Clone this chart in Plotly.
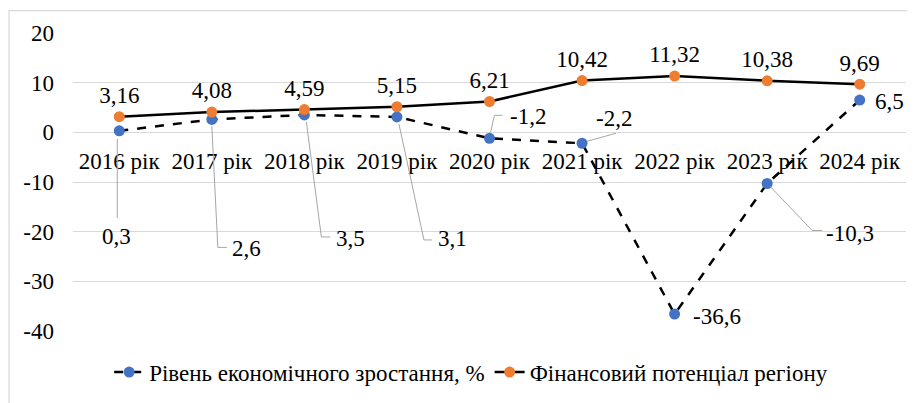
import plotly.graph_objects as go

categories = ["2016 рік", "2017 рік", "2018 рік", "2019 рік", "2020 рік",
              "2021 рік", "2022 рік", "2023 рік", "2024 рік"]
growth = [0.3, 2.6, 3.5, 3.1, -1.2, -2.2, -36.6, -10.3, 6.5]
potential = [3.16, 4.08, 4.59, 5.15, 6.21, 10.42, 11.32, 10.38, 9.69]
y_ticks = [20, 10, 0, -10, -20, -30, -40]

name_growth = "Рівень економічного зростання, %"
name_potential = "Фінансовий потенціал регіону"

# label placement (pixel offsets from the point, y downward)
growth_label_offsets = [(-3, 106), (35, 129), (46, 124), (56, 122),
                        (38, -22), (32, -25), (42, 2), (83, 50), (30, 1)]
# leader line vertices (pixel offsets from the point, y downward)
leader_paths = [
    [(-2, 8), (-2, 87)],
    [(0, 7), (6, 128), (15, 128)],
    [(2, 7), (17, 122), (26, 122)],
    [(2, 7), (27, 123), (35, 123)],
    [(1, -6), (5, -23), (13, -23)],
    [(5, -2), (34, -10)],
    [],
    [(3, 3), (45, 47), (55, 47)],
    [],
]

FONT = "Liberation Serif"
BLUE = "#4472C4"
ORANGE = "#ED7D31"
FS = 23

def fmt(v):
    return f"{v:g}".replace(".", ",")

def fmt2(v):
    return f"{v:.2f}".replace(".", ",")

fig = go.Figure()
fig.add_trace(go.Scatter(
    x=categories, y=growth, name=name_growth, mode="lines+markers",
    line=dict(color="black", width=2.5, dash="dash"),
    marker=dict(color=BLUE, size=11),
))
fig.add_trace(go.Scatter(
    x=categories, y=potential, name=name_potential, mode="lines+markers+text",
    line=dict(color="black", width=2.5),
    marker=dict(color=ORANGE, size=11),
    text=[fmt2(v) for v in potential], textposition="top center",
    textfont=dict(family=FONT, size=FS, color="black"),
))

for c, v, (ax, ay), path in zip(categories, growth, growth_label_offsets, leader_paths):
    fig.add_annotation(
        x=c, y=v, text=fmt(v), showarrow=True, arrowcolor="rgba(0,0,0,0)",
        ax=ax, ay=ay, font=dict(family=FONT, size=FS, color="black"),
    )
    if path:
        d = "M" + " L".join(f"{px},{-py}" for px, py in path)
        fig.add_shape(type="path", xref="x", yref="y", xsizemode="pixel", ysizemode="pixel",
                      xanchor=c, yanchor=v, path=d,
                      line=dict(color="#a6a6a6", width=1))

fig.add_shape(type="rect", xref="paper", yref="paper",
              x0=-0.0768, x1=1.3, y0=-0.5, y1=1.0754,
              line=dict(color="#d9d9d9", width=1.2), layer="below")

fig.update_layout(
    width=907, height=395,
    margin=dict(l=65, r=9, t=25, b=65),
    paper_bgcolor="white", plot_bgcolor="white",
    font=dict(family=FONT, size=FS, color="black"),
    showlegend=True,
    legend=dict(orientation="h", x=0.478, xanchor="center", y=-0.138, yanchor="middle",
                font=dict(family=FONT, size=FS, color="black"),
                itemwidth=30, tracegroupgap=0),
    xaxis=dict(type="category", range=[-0.5, 8.5], anchor="free", position=40/60,
               showgrid=False, showline=False, ticks="", ticklabelstandoff=13,
               tickfont=dict(family=FONT, size=FS, color="black")),
    yaxis=dict(range=[-40, 20], tickvals=y_ticks, ticktext=[str(t) for t in y_ticks],
               showgrid=True, gridcolor="#d9d9d9", gridwidth=1.2, zeroline=False,
               ticks="", ticklabelstandoff=18,
               tickfont=dict(family=FONT, size=FS, color="black")),
)

fig.write_html("out.html")
